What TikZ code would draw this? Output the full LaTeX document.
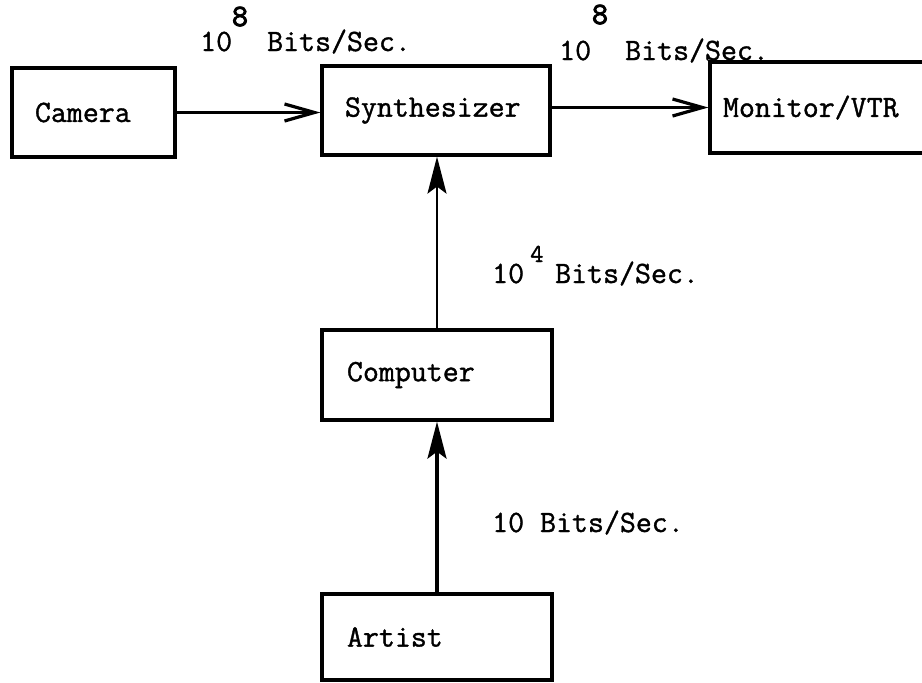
\documentclass[tikz,border=0pt]{standalone}
\usepackage{fontspec}
\newfontfamily\tyfont{Latin Modern Mono}[FakeBold=1.2]
\newfontfamily\tyboldfont{Latin Modern Mono}[FakeBold=3]
\usetikzlibrary{arrows.meta,calc}
\begin{document}
\begin{tikzpicture}[x=1pt,y=-1pt,
  tw/.style={font=\fontsize{31}{36}\selectfont\tyfont},
  box/.style={draw,line width=3.2pt,inner ysep=0pt,align=left,tw},
  lbl/.style={inner sep=0pt,anchor=base west,tw},
  exp/.style={inner sep=0pt,anchor=base,font=\fontsize{31}{36}\selectfont\tyboldfont},
  openhead/.style={-{Straight Barb[length=30pt,width=17pt,line width=3.2pt]}},
  fillhead/.style={-{Stealth[length=37pt,width=19pt,inset=7pt]}}]
\useasboundingbox (0,0) rectangle (922,683);
\fill[white] (0,0) rectangle (922,683);
\begin{scope}
\clip (0,0) rectangle (922,683);
\node[box,minimum width=163pt,minimum height=89pt,inner xsep=23pt,text width=117pt] (cam) at (93.5,112.5) {Camera};
\node[box,minimum width=228pt,minimum height=89pt,inner xsep=23pt,text width=182pt] (syn) at (436,110.5) {Synthesizer};
\node[box,minimum width=225pt,minimum height=91pt,inner xsep=13pt,text width=199pt] (mon) at (822.5,107.5) {Monitor/VTR};
\node[box,minimum width=230pt,minimum height=90pt,inner xsep=25pt,text width=180pt] (comp) at (437,375) {Computer};
\node[box,minimum width=230pt,minimum height=86pt,inner xsep=25pt,text width=180pt] (art) at (437,637) {Artist};
\end{scope}

\draw[line width=2.2pt,openhead] (cam.east) -- (cam.east -| syn.west);
\draw[line width=2.2pt,openhead] (mon.west -| syn.east) -- (mon.west);
\draw[line width=2.2pt,fillhead] (comp.north) -- (comp.north |- syn.south);
\draw[line width=3.2pt,fillhead] (art.north) -- (art.north |- comp.south);

\node[lbl] (l1a) at (200,51) {10};
\node[exp] (l1e) at (240,26) {8};
\node[lbl] (l1b) at (267,51) {Bits/Sec.};
\node[lbl] (l2a) at (559,60) {10};
\node[exp] (l2e) at (600,24) {8};
\node[lbl] (l2b) at (625,60) {Bits/Sec.};
\node[lbl] (l3a) at (492,283) {10};
\node[lbl,font=\fontsize{26}{30}\selectfont\tyfont] (l3e) at (530,262) {4};
\node[lbl] (l3b) at (555,283) {Bits/Sec.};
\node[lbl] (l4) at (492,532) {10 Bits/Sec.};
\end{tikzpicture}
\end{document}
